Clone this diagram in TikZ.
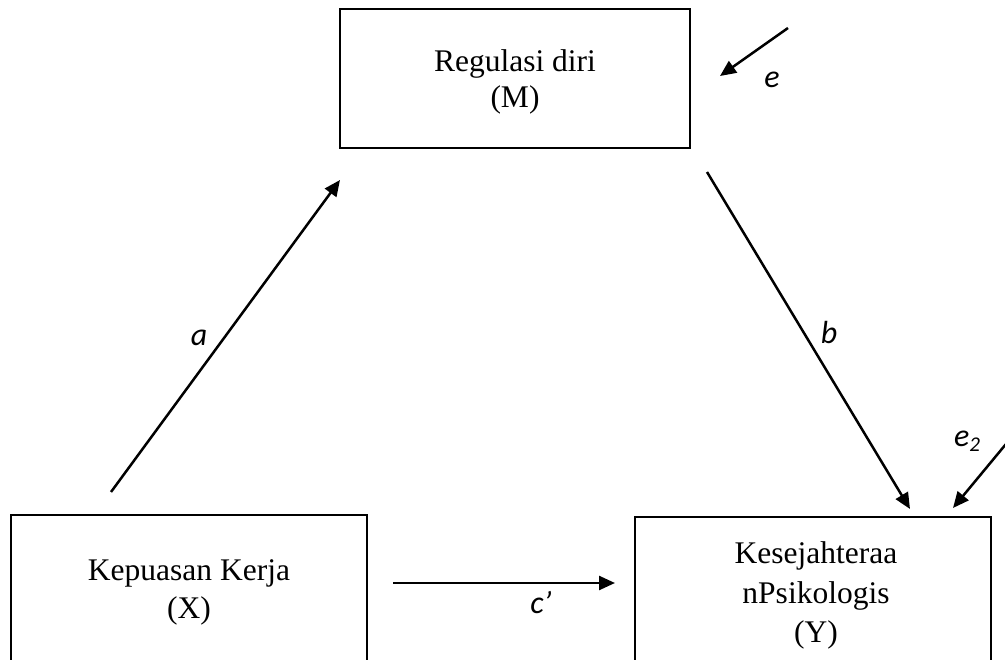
\documentclass[tikz,border=0pt]{standalone}
\usepackage{fontspec}
\setmainfont{Liberation Serif}
\newfontfamily\labfont{Carlito}
\usetikzlibrary{arrows.meta}
\begin{document}
\begin{tikzpicture}[x=1pt,y=-1pt,
  box/.style={draw,line width=2.5pt,anchor=north west,outer sep=0pt,inner sep=0pt},
  boxtext/.style={font=\fontsize{31.5}{38}\selectfont,inner sep=0pt,anchor=base},
  link/.style={line width=2.5pt,-{Triangle[length=16pt,width=14pt]}},
  lbl/.style={font=\labfont\itshape\fontsize{32}{34}\selectfont,inner sep=0pt}]
\useasboundingbox (0,0) rectangle (1005,660);
\clip (0,0) rectangle (1005,660);
% boxes
\node[box,minimum width=350pt,minimum height=139pt] (M) at (340,9) {};
\node[box,minimum width=356pt,minimum height=146pt] (X) at (11,515) {};
\node[box,minimum width=356pt,minimum height=144pt] (Y) at (635,517) {};
% box texts
\node[boxtext] (m1) at (515,72) {Regulasi diri};
\node[boxtext] (m2) at (515,108) {(M)};
\node[boxtext] (x1) at (189,580) {Kepuasan Kerja};
\node[boxtext] (x2) at (189,618) {(X)};
\node[boxtext] (y1) at (816,563) {Kesejahteraa};
\node[boxtext] (y2) at (816,603) {nPsikologis};
\node[boxtext] (y3) at (816,642) {(Y)};
% arrow ends
\coordinate (a0) at (111,492);
\coordinate (a1) at (340,180);
\coordinate (b0) at (707,172);
\coordinate (b1) at (910,509);
\coordinate (c0) at (393,583);
\coordinate (c1) at (615,583);
\coordinate (e0) at (788,28);
\coordinate (e1) at (720,76);
\coordinate (f0) at (1006,444);
\coordinate (f1) at (953,508);
\draw[link] (a0) -- (a1);
\draw[link] (b0) -- (b1);
\draw[link] (c0) -- (c1);
\draw[link] (e0) -- (e1);
\draw[link] (f0) -- (f1);
% labels
\node[lbl] (la) at (199,338) {a};
\node[lbl] (lb) at (829,333) {b};
\node[lbl] (lc) at (541,603) {c’};
\node[lbl] (le) at (772,80) {e};
\node[lbl] (lf) at (967,441) {e\raisebox{-5pt}{\fontsize{21}{22}\selectfont 2}};
\end{tikzpicture}
\end{document}
